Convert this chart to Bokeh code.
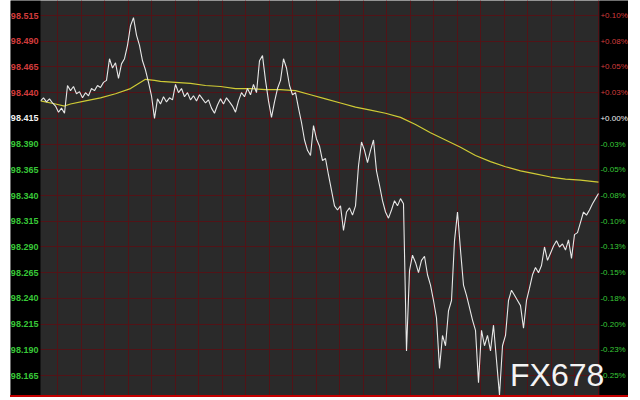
import numpy as np
from bokeh.plotting import figure
from bokeh.models import Range1d, FixedTicker, Label, BoxAnnotation
from bokeh.core.properties import value
from bokeh.embed import file_html
from bokeh.resources import INLINE

# ---- data ----
price = [
    98.432, 98.435, 98.431, 98.434, 98.430, 98.427, 98.421, 98.425, 98.420, 98.447,
    98.442, 98.446, 98.439, 98.441, 98.435, 98.440, 98.437, 98.444, 98.442, 98.447,
    98.445, 98.450, 98.452, 98.473, 98.464, 98.469, 98.454, 98.468, 98.473, 98.486,
    98.505, 98.513, 98.496, 98.486, 98.471, 98.462, 98.450, 98.437, 98.415, 98.434,
    98.429, 98.436, 98.431, 98.435, 98.433, 98.448, 98.440, 98.444, 98.436, 98.440,
    98.433, 98.437, 98.432, 98.438, 98.434, 98.430, 98.433, 98.425, 98.420, 98.428,
    98.434, 98.429, 98.435, 98.431, 98.427, 98.421, 98.432, 98.440, 98.436, 98.444,
    98.438, 98.448, 98.440, 98.471, 98.476, 98.452, 98.432, 98.416, 98.431, 98.444,
    98.452, 98.473, 98.464, 98.447, 98.438, 98.440, 98.425, 98.411, 98.394, 98.384,
    98.379, 98.408, 98.395, 98.388, 98.374, 98.376, 98.360, 98.345, 98.330, 98.326,
    98.330, 98.306, 98.324, 98.328, 98.321, 98.330, 98.369, 98.392, 98.384, 98.372,
    98.384, 98.394, 98.364, 98.350, 98.335, 98.324, 98.318, 98.326, 98.335, 98.330,
    98.337, 98.332, 98.189, 98.267, 98.282, 98.275, 98.265, 98.277, 98.281, 98.263,
    98.253, 98.238, 98.221, 98.172, 98.204, 98.194, 98.228, 98.238, 98.296, 98.324,
    98.287, 98.253, 98.243, 98.231, 98.219, 98.209, 98.158, 98.209, 98.194, 98.204,
    98.189, 98.214, 98.180, 98.146, 98.194, 98.204, 98.238, 98.248, 98.243, 98.238,
    98.233, 98.211, 98.238, 98.250, 98.263, 98.270, 98.265, 98.272, 98.290, 98.277,
    98.284, 98.291, 98.296, 98.290, 98.293, 98.287, 98.297, 98.279, 98.302, 98.304,
    98.314, 98.324, 98.321, 98.326, 98.332, 98.337, 98.342,
]
index = list(range(len(price)))

ma_index = [0, 5, 8, 10, 15, 20, 25, 30, 35, 38, 40, 45, 50, 55, 60, 65, 70, 75, 80,
            85, 90, 95, 100, 105, 110, 115, 120, 125, 130, 135, 140, 145, 150, 155,
            160, 165, 170, 175, 180, 186]
ma_price = [98.432, 98.429, 98.427, 98.429, 98.432, 98.435, 98.439, 98.444, 98.453,
            98.452, 98.451, 98.450, 98.449, 98.447, 98.446, 98.444, 98.444, 98.443,
            98.443, 98.442, 98.438, 98.434, 98.430, 98.426, 98.423, 98.420, 98.416,
            98.409, 98.401, 98.394, 98.387, 98.379, 98.373, 98.368, 98.364, 98.361,
            98.358, 98.356, 98.355, 98.353]

ref_price = 98.415
tick_values = [98.515, 98.490, 98.465, 98.440, 98.415, 98.390, 98.365, 98.340,
               98.315, 98.290, 98.265, 98.240, 98.215, 98.190, 98.165]
watermark = "FX678"

# ---- styling ----
BG = "#2a2a2a"
GRID = "#521317"
RED = "#d23c3c"
GREEN = "#38c838"
WHITE = "#f2f2f2"

n_last = index[-1] + 0.33          # right edge of the price area
left_pad, right_pad = 10.0, 9.67   # side label panels, in index units

p = figure(width=618, height=397, output_backend="svg", toolbar_location=None,
           x_range=Range1d(-left_pad, n_last + right_pad),
           y_range=Range1d(98.1437, 98.5296),
           min_border_left=0, min_border_right=0, min_border_top=0, min_border_bottom=0,
           background_fill_color=BG, border_fill_color="black",
           outline_line_color=None,
           styles={"margin-left": "10px",
                   "border-bottom": "2px solid #c40000"})
p.xaxis.visible = False
p.yaxis.visible = False

p.xgrid.ticker = FixedTicker(ticks=list(np.arange(17 / 3, n_last, 23.5 / 3)))
p.ygrid.ticker = FixedTicker(ticks=tick_values)
for g in (p.xgrid, p.ygrid):
    g.grid_line_color = GRID
    g.grid_line_width = 1

p.line(ma_index, ma_price, line_color="#cfcb35", line_width=1.2)
p.line(index, price, line_color="#e8e8e8", line_width=1.1)

# black side panels for the price / percent scales
p.add_layout(BoxAnnotation(right=0, fill_color="black", fill_alpha=1, line_alpha=0))
p.add_layout(BoxAnnotation(left=n_last, fill_color="black", fill_alpha=1, line_alpha=0))

def col(v):
    if abs(v - ref_price) < 1e-9:
        return WHITE
    return RED if v > ref_price else GREEN

colors = [col(v) for v in tick_values]
left_text = [f"{v:.3f}" for v in tick_values]
right_text = [f"{(v / ref_price - 1) * 100:+.2f}%" for v in tick_values]

p.text(x=[-0.7] * len(tick_values), y=tick_values, text=left_text,
       text_color=colors, text_font=value("Liberation Sans"),
       text_font_style="bold", text_font_size="9px",
       text_align="right", text_baseline="middle", level="overlay")
p.text(x=[n_last + 0.3] * len(tick_values), y=tick_values, text=right_text,
       text_color=colors, text_font=value("Liberation Sans"),
       text_font_size="8px",
       text_align="left", text_baseline="middle", level="overlay")

p.add_layout(Label(x=156.5, y=98.166, text=watermark, text_color="#f4f4f4",
                   text_font="Liberation Sans", text_font_size="32px",
                   text_align="left", text_baseline="alphabetic", level="overlay"))

open("out.html", "w").write(file_html(p, INLINE))
